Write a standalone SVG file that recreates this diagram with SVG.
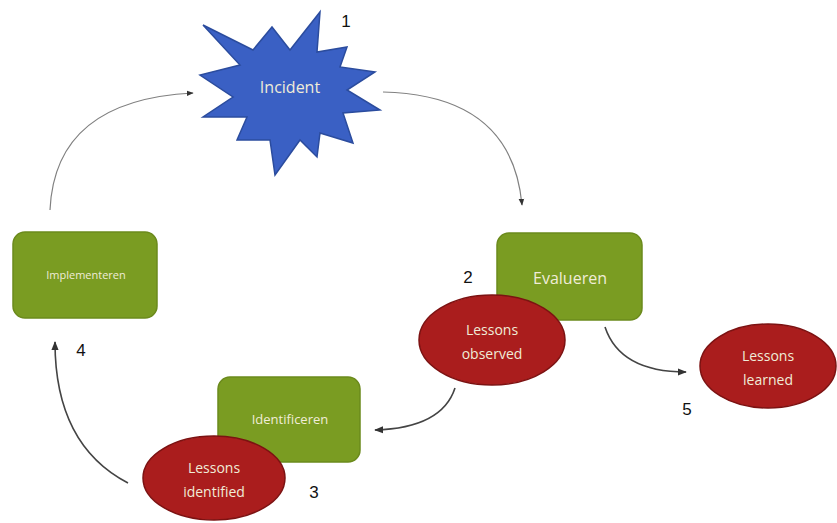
<svg xmlns="http://www.w3.org/2000/svg" width="837" height="523" viewBox="0 0 837 523">
<style>
.box{fill:#7a9c22;stroke:#6b8a1c;stroke-width:1.5}
.ell{fill:#aa1d1d;stroke:#7c1212;stroke-width:1.5}
.lbl{font-family:"Open Sans","Liberation Sans",sans-serif;fill:#f0ecd8;text-anchor:middle}
.num{font-family:"Liberation Sans",sans-serif;font-size:17px;fill:#111;text-anchor:middle}
.con{fill:none;stroke:#808080;stroke-width:1.2}
.conb{fill:none;stroke:#444;stroke-width:1.6}
</style>
<defs>
<marker id="ah" viewBox="0 0 10 10" refX="9" refY="5" markerWidth="7" markerHeight="7" orient="auto" markerUnits="userSpaceOnUse">
<path d="M0,1 L10,5 L0,9 z" fill="#333"/>
</marker>
<marker id="ahb" viewBox="0 0 10 10" refX="9" refY="5" markerWidth="9" markerHeight="9" orient="auto" markerUnits="userSpaceOnUse">
<path d="M0,1 L10,5 L0,9 z" fill="#333"/>
</marker>
</defs>
<rect width="837" height="523" fill="#ffffff"/>
<g id="connectors">
<path class="con" d="M383,92 Q512,95 522,205" marker-end="url(#ah)"/>
<path class="conb" d="M605,327 Q620,372 686,372" marker-end="url(#ahb)"/>
<path class="conb" d="M455,388 Q442,428 375,430" marker-end="url(#ahb)"/>
<path class="conb" d="M128,483 Q55,445 55,342" marker-end="url(#ahb)"/>
<path class="con" d="M50,210 Q55,100 193,93" marker-end="url(#ah)"/>
</g>
<g id="incident">
<polygon fill="#3a60c4" stroke="#2b4c9e" stroke-width="1.5" points="203,25 253,50 272,27 290,50 320,12 317,52 347,47 340,67 375,72 347,90 380,110 343,113 353,143 320,133 317,157 300,140 275,175 270,140 237,140 247,117 203,117 233,97 200,75 240,65"/>
<text class="lbl" x="290" y="93" font-size="16">Incident</text>
</g>
<text class="num" x="346" y="27">1</text>
<g id="implementeren">
<rect class="box" x="13" y="232" width="144" height="86" rx="12"/>
<text class="lbl" x="86" y="279" font-size="11">Implementeren</text>
</g>
<text class="num" x="81" y="356">4</text>
<g id="evalueren">
<rect class="box" x="497" y="233" width="145" height="87" rx="12"/>
<text class="lbl" x="570" y="284" font-size="16">Evalueren</text>
</g>
<text class="num" x="468" y="283">2</text>
<g id="lessons-observed">
<ellipse class="ell" cx="492" cy="340" rx="73" ry="45"/>
<text class="lbl" x="492" y="335" font-size="14">Lessons</text>
<text class="lbl" x="492" y="359" font-size="14">observed</text>
</g>
<g id="lessons-learned">
<ellipse class="ell" cx="768" cy="366" rx="68" ry="42"/>
<text class="lbl" x="768" y="361" font-size="14">Lessons</text>
<text class="lbl" x="768" y="385" font-size="14">learned</text>
</g>
<text class="num" x="687" y="415">5</text>
<g id="identificeren">
<rect class="box" x="218" y="377" width="142" height="85" rx="12"/>
<text class="lbl" x="290" y="424" font-size="13">Identificeren</text>
</g>
<g id="lessons-identified">
<ellipse class="ell" cx="214" cy="478" rx="71" ry="42"/>
<text class="lbl" x="214" y="473" font-size="14">Lessons</text>
<text class="lbl" x="214" y="497" font-size="14">identified</text>
</g>
<text class="num" x="314" y="498">3</text>
</svg>
